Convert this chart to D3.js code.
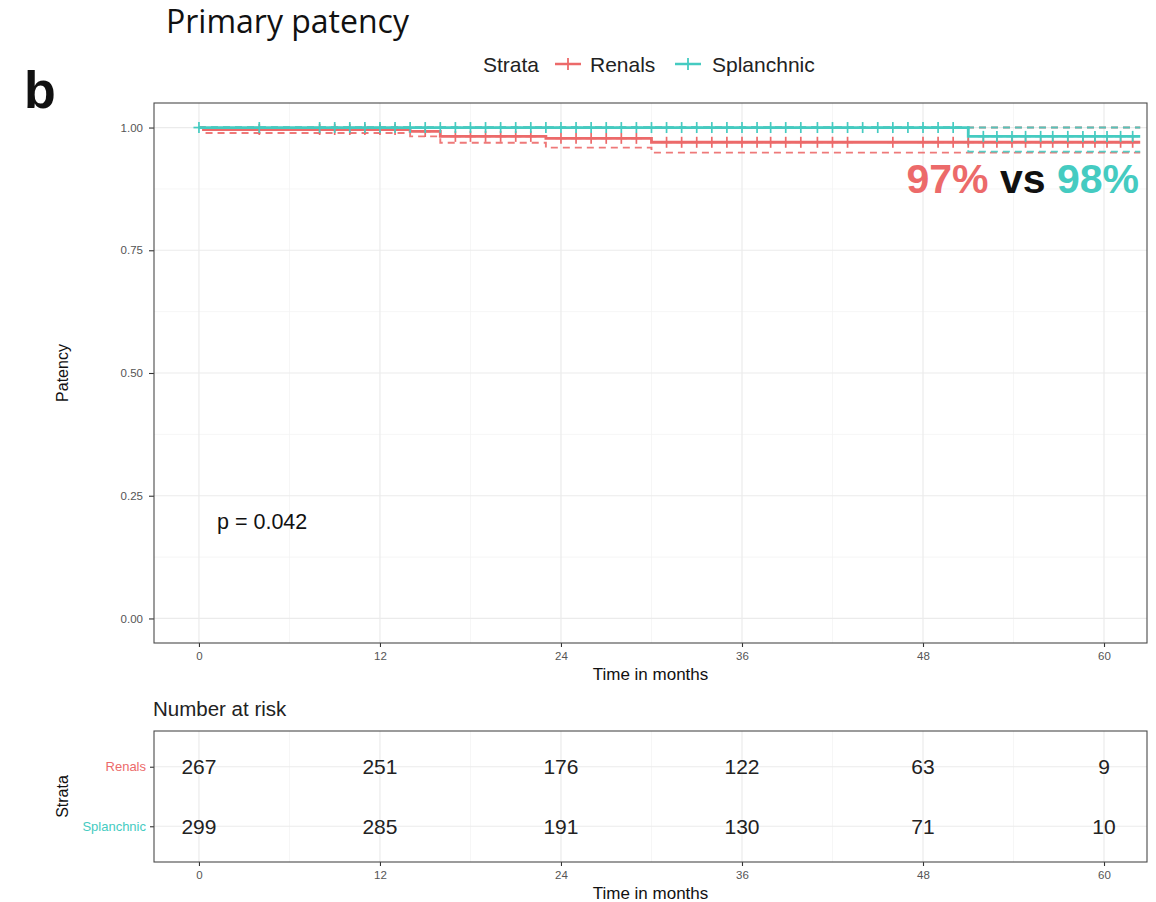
<!DOCTYPE html>
<html>
<head>
<meta charset="utf-8">
<script src="https://cdn.jsdelivr.net/npm/d3@7"></script>
<style>
  html, body { margin: 0; padding: 0; background: #fff; }
  svg { display: block; }
</style>
</head>
<body>
<svg id="chart" width="1156" height="902"></svg>
<script>
// ---------------- DATA ----------------
const strata = ["Renals", "Splanchnic"];
const xTicks = [0, 12, 24, 36, 48, 60];
const yTicks = [0, 0.25, 0.5, 0.75, 1.0];
const yTickLabels = ["0.00", "0.25", "0.50", "0.75", "1.00"];
const followUpEnd = 62.4;

// Renals step curve (time of change, survival, CI)
const renalsTimes = [0, 0.3, 14, 16, 23, 30];
const renalsSurv  = [1.000, 0.996, 0.992, 0.982, 0.978, 0.970];
const renalsLower = [1.000, 0.989, 0.982, 0.969, 0.959, 0.949];
const renalsUpper = [1.000, 1.000, 1.000, 1.000, 1.000, 1.000];
const renalsCensor = [4, 8, 9, 10, 11, 12, 13, 15, 17, 18, 19, 20, 21, 22, 24, 25, 26, 27, 28, 29,
  31, 32, 33, 34, 35, 36, 37, 37.9, 38.9, 39.9, 41, 42, 43, 46, 48, 49, 50, 51,
  52, 52.9, 53.9, 54.8, 55.8, 56.6, 57.6, 58.6, 59.4, 60.2, 61.1, 61.9];

// Splanchnic step curve
const splanchnicTimes = [0, 51];
const splanchnicSurv  = [1.000, 0.982];
const splanchnicLower = [1.000, 0.951];
const splanchnicUpper = [1.000, 1.000];
const splanchnicCensor = [0, 4, 8, 9, 10, 11, 12, 13, 14, 15, 16, 17, 18, 19, 20, 21, 22, 23, 24,
  25, 26, 27, 28, 29, 30, 31, 32, 33, 34, 35, 36, 37, 37.9, 38.9, 39.9, 41, 42, 43, 44, 45, 46, 47,
  48, 49, 50, 52, 52.9, 53.9, 54.8, 55.8, 56.6, 57.6, 58.6, 59.4, 60.2, 61.1, 61.9];

// Number at risk
const riskRenals     = [267, 251, 176, 122, 63, 9];
const riskSplanchnic = [299, 285, 191, 130, 71, 10];

const finalRenals = "97%";
const finalSplanchnic = "98%";
const pValueText = "p = 0.042";

// ---------------- STYLE ----------------
const colRen = "#EC6A6A";
const colSpl = "#45CBC1";
const font = "'Liberation Sans', Arial, Helvetica, sans-serif";
const gridMajor = "#EBEBEB";
const gridMinor = "#F4F4F4";
const borderCol = "#4a4a4a";
const tickTextCol = "#555";

const svg = d3.select("#chart");

// ---------------- MAIN PANEL ----------------
const P = { left: 154, right: 1147, top: 103, bottom: 643 };
const x = d3.scaleLinear().domain([-2.98, 62.85]).range([P.left, P.right]);
const y = d3.scaleLinear().domain([-0.05, 1.05]).range([P.bottom, P.top]);

const main = svg.append("g");
const xMinor = xTicks.slice(0, -1).map(d => d + 6);
const yMinor = [0.125, 0.375, 0.625, 0.875];
main.selectAll(".xminor").data(xMinor).enter().append("line")
  .attr("x1", d => x(d)).attr("x2", d => x(d)).attr("y1", P.top).attr("y2", P.bottom)
  .attr("stroke", gridMinor).attr("stroke-width", 0.8);
main.selectAll(".yminor").data(yMinor).enter().append("line")
  .attr("x1", P.left).attr("x2", P.right).attr("y1", d => y(d)).attr("y2", d => y(d))
  .attr("stroke", gridMinor).attr("stroke-width", 0.8);
main.selectAll(".xmajor").data(xTicks).enter().append("line")
  .attr("x1", d => x(d)).attr("x2", d => x(d)).attr("y1", P.top).attr("y2", P.bottom)
  .attr("stroke", gridMajor).attr("stroke-width", 1.2);
main.selectAll(".ymajor").data(yTicks).enter().append("line")
  .attr("x1", P.left).attr("x2", P.right).attr("y1", d => y(d)).attr("y2", d => y(d))
  .attr("stroke", gridMajor).attr("stroke-width", 1.2);

// axes
const xAxis = d3.axisBottom(x).tickValues(xTicks).tickSize(4).tickPadding(5);
const gx = main.append("g").attr("transform", `translate(0,${P.bottom})`).call(xAxis);
gx.select(".domain").remove();
gx.selectAll("line").attr("stroke", "#333").attr("stroke-width", 1.1);
gx.selectAll("text").attr("font-family", font).attr("font-size", 11.5).attr("fill", tickTextCol);

const yAxis = d3.axisLeft(y).tickValues(yTicks).tickFormat((d, i) => yTickLabels[i]).tickSize(5).tickPadding(6);
const gy = main.append("g").attr("transform", `translate(${P.left},0)`).call(yAxis);
gy.select(".domain").remove();
gy.selectAll("line").attr("stroke", "#333").attr("stroke-width", 1.1);
gy.selectAll("text").attr("font-family", font).attr("font-size", 11.5).attr("fill", tickTextCol);

// step paths
function stepPoints(times, vals, end) {
  const pts = times.map((t, i) => [t, vals[i]]);
  pts.push([end, vals[vals.length - 1]]);
  return pts;
}
const stepLine = d3.line().x(d => x(d[0])).y(d => y(d[1])).curve(d3.curveStepAfter);

const curves = [
  { col: colRen, t: renalsTimes, s: renalsSurv, lo: renalsLower, hi: renalsUpper, c: renalsCensor },
  { col: colSpl, t: splanchnicTimes, s: splanchnicSurv, lo: splanchnicLower, hi: splanchnicUpper, c: splanchnicCensor }
];

function survAt(cv, t) {
  let v = cv.s[0];
  for (let i = 0; i < cv.t.length; i++) if (cv.t[i] <= t) v = cv.s[i];
  return v;
}

// CI dashed
curves.forEach(cv => {
  [cv.lo, cv.hi].forEach(arr => {
    main.append("path").datum(stepPoints(cv.t, arr, followUpEnd))
      .attr("d", stepLine).attr("fill", "none")
      .attr("stroke", cv.col).attr("stroke-width", 1.9).attr("stroke-dasharray", "7,5")
      .attr("opacity", 0.9);
  });
});
// survival lines and censor marks
curves.forEach(cv => {
  main.append("path").datum(stepPoints(cv.t, cv.s, followUpEnd))
    .attr("d", stepLine).attr("fill", "none")
    .attr("stroke", cv.col).attr("stroke-width", 2.8);
  const g = main.append("g");
  const cs = 5.5;
  cv.c.forEach(t => {
    const cx = x(t), cy = y(survAt(cv, t));
    g.append("line").attr("x1", cx - cs).attr("x2", cx + cs).attr("y1", cy).attr("y2", cy)
      .attr("stroke", cv.col).attr("stroke-width", 1.7);
    g.append("line").attr("x1", cx).attr("x2", cx).attr("y1", cy - cs).attr("y2", cy + cs)
      .attr("stroke", cv.col).attr("stroke-width", 1.7);
  });
});

// border
main.append("rect").attr("x", P.left).attr("y", P.top)
  .attr("width", P.right - P.left).attr("height", P.bottom - P.top)
  .attr("fill", "none").attr("stroke", borderCol).attr("stroke-width", 1.1);

// annotations
main.append("text").attr("x", 217).attr("y", 529).text(pValueText)
  .attr("font-family", font).attr("font-size", 21.5).attr("fill", "#111");

const ann = main.append("text").attr("x", 1139).attr("y", 193).attr("text-anchor", "end")
  .attr("font-family", font).attr("font-size", 41).attr("font-weight", "bold");
ann.append("tspan").attr("fill", colRen).text(finalRenals);
ann.append("tspan").attr("fill", "#111").text(" vs ");
ann.append("tspan").attr("fill", colSpl).text(finalSplanchnic);

// axis titles
main.append("text").attr("x", (P.left + P.right) / 2).attr("y", 680).attr("text-anchor", "middle")
  .attr("font-family", font).attr("font-size", 17).attr("fill", "#111").text("Time in months");
main.append("text").attr("transform", `translate(68,${(P.top + P.bottom) / 2}) rotate(-90)`)
  .attr("text-anchor", "middle").attr("font-family", font).attr("font-size", 16).attr("fill", "#111")
  .text("Patency");

// title, panel letter, legend
svg.append("text").attr("x", 166).attr("y", 33).attr("font-family", "'Open Sans', 'Noto Sans', sans-serif")
  .attr("font-size", 32).attr("fill", "#111").text("Primary patency");
svg.append("text").attr("x", 24).attr("y", 108).attr("font-family", font).attr("font-weight", "bold")
  .attr("font-size", 52).attr("fill", "#111").text("b");

const leg = svg.append("g");
leg.append("text").attr("x", 483).attr("y", 72).attr("font-family", font).attr("font-size", 21)
  .attr("fill", "#222").text("Strata");
const legItems = [
  { name: strata[0], col: colRen, x0: 555, tx: 590 },
  { name: strata[1], col: colSpl, x0: 675, tx: 712 }
];
legItems.forEach(it => {
  const cy = 64;
  leg.append("line").attr("x1", it.x0).attr("x2", it.x0 + 26).attr("y1", cy).attr("y2", cy)
    .attr("stroke", it.col).attr("stroke-width", 2.5);
  leg.append("line").attr("x1", it.x0 + 13).attr("x2", it.x0 + 13).attr("y1", cy - 6).attr("y2", cy + 6)
    .attr("stroke", it.col).attr("stroke-width", 1.8);
  leg.append("text").attr("x", it.tx).attr("y", 72).attr("font-family", font).attr("font-size", 21)
    .attr("fill", "#222").text(it.name);
});

// ---------------- RISK TABLE ----------------
const R = { left: 154, right: 1147, top: 731, bottom: 862 };
const xr = d3.scaleLinear().domain(x.domain()).range([R.left, R.right]);
const yr = d3.scalePoint().domain(strata).range([R.top, R.bottom]).padding(0.6);
const risk = svg.append("g");

risk.selectAll(".rxminor").data(xMinor).enter().append("line")
  .attr("x1", d => xr(d)).attr("x2", d => xr(d)).attr("y1", R.top).attr("y2", R.bottom)
  .attr("stroke", gridMinor).attr("stroke-width", 0.8);
risk.selectAll(".rxmajor").data(xTicks).enter().append("line")
  .attr("x1", d => xr(d)).attr("x2", d => xr(d)).attr("y1", R.top).attr("y2", R.bottom)
  .attr("stroke", gridMajor).attr("stroke-width", 1.2);
risk.selectAll(".rymajor").data(strata).enter().append("line")
  .attr("x1", R.left).attr("x2", R.right).attr("y1", d => yr(d)).attr("y2", d => yr(d))
  .attr("stroke", gridMajor).attr("stroke-width", 1.2);

const rxAxis = d3.axisBottom(xr).tickValues(xTicks).tickSize(4).tickPadding(5);
const grx = risk.append("g").attr("transform", `translate(0,${R.bottom})`).call(rxAxis);
grx.select(".domain").remove();
grx.selectAll("line").attr("stroke", "#333").attr("stroke-width", 1.1);
grx.selectAll("text").attr("font-family", font).attr("font-size", 11.5).attr("fill", tickTextCol);

const ryAxis = d3.axisLeft(yr).tickSize(4).tickPadding(4);
const gry = risk.append("g").attr("transform", `translate(${R.left},0)`).call(ryAxis);
gry.select(".domain").remove();
gry.selectAll("line").attr("stroke", "#333").attr("stroke-width", 1.1);
gry.selectAll("text").attr("font-family", font).attr("font-size", 13)
  .attr("fill", (d, i) => i === 0 ? colRen : colSpl);

const riskRows = [riskRenals, riskSplanchnic];
riskRows.forEach((row, ri) => {
  risk.selectAll(null).data(row).enter().append("text")
    .attr("x", (d, i) => xr(xTicks[i])).attr("y", yr(strata[ri])).attr("dy", "0.36em")
    .attr("text-anchor", "middle").attr("font-family", font).attr("font-size", 21)
    .attr("fill", "#222").text(d => d);
});

risk.append("rect").attr("x", R.left).attr("y", R.top)
  .attr("width", R.right - R.left).attr("height", R.bottom - R.top)
  .attr("fill", "none").attr("stroke", borderCol).attr("stroke-width", 1.1);

risk.append("text").attr("x", 153).attr("y", 716).attr("font-family", font).attr("font-size", 20.5)
  .attr("fill", "#222").text("Number at risk");
risk.append("text").attr("x", (R.left + R.right) / 2).attr("y", 899).attr("text-anchor", "middle")
  .attr("font-family", font).attr("font-size", 17).attr("fill", "#111").text("Time in months");
risk.append("text").attr("transform", `translate(68,${(R.top + R.bottom) / 2}) rotate(-90)`)
  .attr("text-anchor", "middle").attr("font-family", font).attr("font-size", 16).attr("fill", "#111")
  .text("Strata");
</script>
</body>
</html>
